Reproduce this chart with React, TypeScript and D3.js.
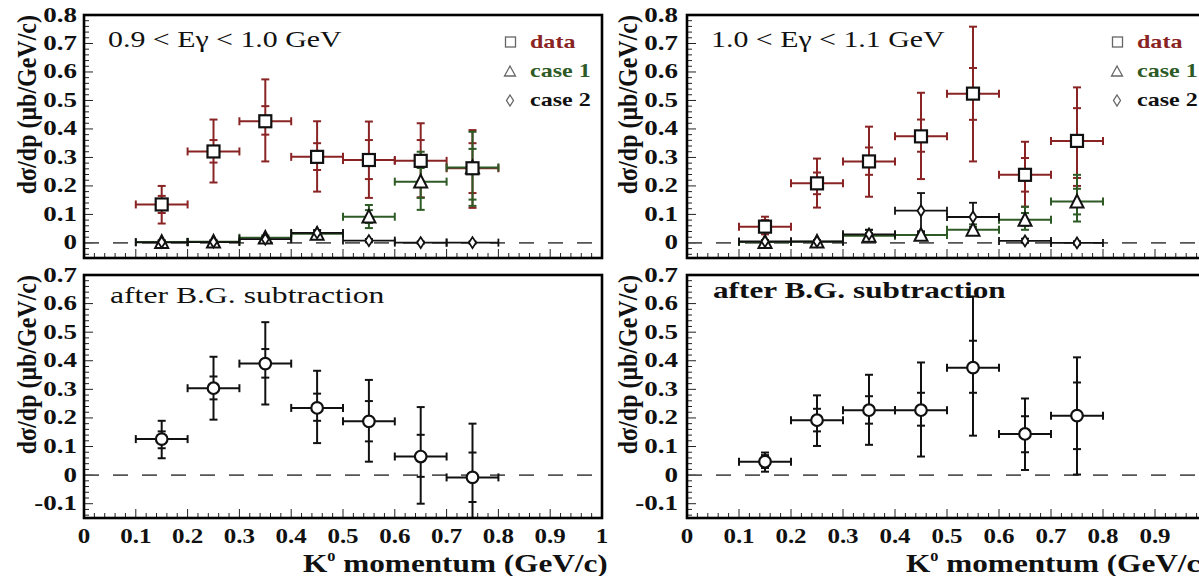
import React from "react";
import * as d3 from "d3";

// ---------- data ----------
const pCenters = [0.15, 0.25, 0.35, 0.45, 0.55, 0.65, 0.75];
const binHalf = 0.05;
const xTicks = [0, 0.1, 0.2, 0.3, 0.4, 0.5, 0.6, 0.7, 0.8, 0.9, 1];
const xTickLabels = ["0", "0.1", "0.2", "0.3", "0.4", "0.5", "0.6", "0.7", "0.8", "0.9", "1"];
const yTicksTop = [0, 0.1, 0.2, 0.3, 0.4, 0.5, 0.6, 0.7, 0.8];
const yTickLabelsTop = ["0", "0.1", "0.2", "0.3", "0.4", "0.5", "0.6", "0.7", "0.8"];
const yTicksBottom = [-0.1, 0, 0.1, 0.2, 0.3, 0.4, 0.5, 0.6, 0.7];
const yTickLabelsBottom = ["-0.1", "0", "0.1", "0.2", "0.3", "0.4", "0.5", "0.6", "0.7"];

const legendLabels = ["data", "case 1", "case 2"];

// Top-left: 0.9 < Eγ < 1.0 GeV
const tlData = [0.135, 0.321, 0.427, 0.302, 0.291, 0.288, 0.262];
const tlDataHi = [0.2, 0.433, 0.574, 0.427, 0.426, 0.42, 0.396];
const tlDataLo = [0.068, 0.212, 0.286, 0.18, 0.158, 0.16, 0.123];
const tlDataStatHi = [0.165, 0.361, 0.48, 0.35, 0.361, 0.361, 0.35];
const tlDataStatLo = [0.105, 0.282, 0.38, 0.256, 0.224, 0.215, 0.175];

const tlCase1 = [0.003, 0.004, 0.018, 0.032, 0.092, 0.215, 0.265];
const tlCase1Hi = [0.01, 0.01, 0.026, 0.045, 0.133, 0.32, 0.39];
const tlCase1Lo = [-0.003, -0.002, 0.01, 0.02, 0.052, 0.116, 0.13];
const tlCase1StatHi = [0.006, 0.007, 0.022, 0.04, 0.115, 0.263, 0.33];
const tlCase1StatLo = [0.0, 0.001, 0.014, 0.025, 0.07, 0.158, 0.152];

const tlCase2 = [0.002, 0.003, 0.013, 0.035, 0.008, 0.001, 0.001];
const tlCase2Hi = [0.007, 0.008, 0.02, 0.045, 0.014, 0.005, 0.005];
const tlCase2Lo = [-0.003, -0.002, 0.006, 0.025, 0.002, -0.003, -0.003];

// Top-right: 1.0 < Eγ < 1.1 GeV
const trData = [0.057, 0.209, 0.286, 0.374, 0.524, 0.239, 0.358];
const trDataHi = [0.092, 0.296, 0.408, 0.527, 0.759, 0.355, 0.546];
const trDataLo = [0.03, 0.124, 0.162, 0.224, 0.286, 0.127, 0.2];
const trDataStatHi = [0.08, 0.247, 0.335, 0.433, 0.614, 0.298, 0.473];
const trDataStatLo = [0.04, 0.171, 0.239, 0.32, 0.432, 0.18, 0.228];

const trCase1 = [0.003, 0.004, 0.025, 0.028, 0.046, 0.081, 0.145];
const trCase1Hi = [0.01, 0.01, 0.046, 0.04, 0.065, 0.127, 0.239];
const trCase1Lo = [-0.003, -0.002, 0.008, 0.018, 0.03, 0.046, 0.075];
const trCase1StatHi = [0.007, 0.007, 0.035, 0.035, 0.056, 0.105, 0.19];
const trCase1StatLo = [0.0, 0.001, 0.015, 0.022, 0.038, 0.06, 0.1];

const trCase2 = [0.005, 0.005, 0.03, 0.113, 0.091, 0.007, 0.0];
const trCase2Hi = [0.01, 0.01, 0.046, 0.175, 0.141, 0.015, 0.006];
const trCase2Lo = [0.0, 0.0, 0.015, 0.04, 0.04, 0.0, -0.006];

// Bottom-left: after B.G. subtraction
const blVal = [0.126, 0.304, 0.39, 0.235, 0.188, 0.065, -0.008];
const blHi = [0.19, 0.414, 0.535, 0.365, 0.333, 0.238, 0.18];
const blLo = [0.059, 0.194, 0.247, 0.112, 0.047, -0.1, -0.16];
const blStatHi = [0.153, 0.345, 0.441, 0.285, 0.259, 0.141, 0.079];
const blStatLo = [0.094, 0.265, 0.341, 0.19, 0.118, -0.006, -0.094];

// Bottom-right: after B.G. subtraction
const brVal = [0.047, 0.192, 0.227, 0.227, 0.376, 0.144, 0.208];
const brHi = [0.079, 0.279, 0.351, 0.394, 0.625, 0.268, 0.412];
const brLo = [0.012, 0.102, 0.106, 0.065, 0.138, 0.018, 0.002];
const brStatHi = [0.07, 0.232, 0.276, 0.288, 0.47, 0.206, 0.324];
const brStatLo = [0.025, 0.153, 0.18, 0.173, 0.288, 0.08, 0.091];

// ---------- style ----------
const FONT = "'Liberation Serif', 'DejaVu Serif', serif";
const RED = "#8a2424";
const GREEN = "#2e5a26";
const BLACK = "#111";
const SX = 1.3; // horizontal stretch of the original figure's text
const W = 1199;

function T({ x, y, sx = SX, anchor = "start", size, bold = false, fill = "#111", children }: any) {
  return (
    <text
      transform={`translate(${x},${y}) scale(${sx},1)`}
      textAnchor={anchor}
      fontFamily={FONT}
      fontWeight={bold ? "bold" : "normal"}
      fontSize={size}
      fill={fill}
    >
      {children}
    </text>
  );
}

function ErrBar({ xs, ys, x, y, hi, lo, shi, slo, color, w = 2 }: any) {
  const cx = xs(x);
  const x0 = xs(x - binHalf);
  const x1 = xs(x + binHalf);
  const cy = ys(y);
  const c = 4;
  const parts: any[] = [];
  parts.push(<line key="h" x1={x0} x2={x1} y1={cy} y2={cy} />);
  parts.push(<line key="hc0" x1={x0} x2={x0} y1={cy - c} y2={cy + c} />);
  parts.push(<line key="hc1" x1={x1} x2={x1} y1={cy - c} y2={cy + c} />);
  const yh = ys(hi);
  const yl = ys(lo);
  parts.push(<line key="v" x1={cx} x2={cx} y1={yh} y2={yl} />);
  parts.push(<line key="vc0" x1={cx - c} x2={cx + c} y1={yh} y2={yh} />);
  parts.push(<line key="vc1" x1={cx - c} x2={cx + c} y1={yl} y2={yl} />);
  if (shi !== undefined) {
    const a = ys(shi);
    const b = ys(slo);
    parts.push(<line key="s0" x1={cx - c} x2={cx + c} y1={a} y2={a} />);
    parts.push(<line key="s1" x1={cx - c} x2={cx + c} y1={b} y2={b} />);
  }
  return (
    <g stroke={color} strokeWidth={w} fill="none">
      {parts}
    </g>
  );
}

function Square({ x, y, s = 12, stroke = BLACK, sw = 2.2 }: any) {
  return <rect x={x - s / 2} y={y - s / 2} width={s} height={s} fill="#fff" stroke={stroke} strokeWidth={sw} />;
}
function Triangle({ x, y, s = 13, stroke = BLACK, sw = 2 }: any) {
  const h = s * 0.9;
  const p = `${x},${y - h / 2 - 1} ${x - s / 2},${y + h / 2} ${x + s / 2},${y + h / 2}`;
  return <polygon points={p} fill="#fff" stroke={stroke} strokeWidth={sw} />;
}
function Diamond({ x, y, w = 7, h = 11, stroke = BLACK, sw = 1.8 }: any) {
  const p = `${x},${y - h / 2} ${x + w / 2},${y} ${x},${y + h / 2} ${x - w / 2},${y}`;
  return <polygon points={p} fill="#fff" stroke={stroke} strokeWidth={sw} />;
}

function Frame({ xs, ys, yTicks, yLabels, showXLabels, yTitleX, labelRight }: any) {
  const [x0, x1] = xs.range();
  const [yb, yt] = ys.range();
  const minorX = d3.range(0, 1.0001, 0.02);
  const [d0, d1] = ys.domain();
  const minorY = d3.range(Math.ceil(d0 / 0.02 - 1e-6) * 0.02, d1 + 0.0001, 0.02);
  const isMajor = (v: number) => Math.abs(v * 10 - Math.round(v * 10)) < 1e-6;
  return (
    <g>
      <g stroke="#222" strokeWidth={1}>
        {minorX.map((v, i) => (
          <line key={"mx" + i} x1={xs(v)} x2={xs(v)} y1={yb} y2={yb - (isMajor(v) ? 9 : 5)} />
        ))}
        {minorY.map((v, i) => (
          <line key={"my" + i} x1={x0} x2={x0 + (isMajor(v) ? 9 : 5)} y1={ys(v)} y2={ys(v)} />
        ))}
      </g>
      <line x1={x0} x2={x1} y1={ys(0)} y2={ys(0)} stroke="#555" strokeWidth={1.6} strokeDasharray="15,14" />
      {yTicks.map((v: number, i: number) => (
        <T key={"yl" + i} x={labelRight} y={ys(v) + 6.5} anchor="end" size={20} bold sx={1.35}>
          {yLabels[i]}
        </T>
      ))}
      {showXLabels &&
        xTicks
          .map((v, i) => ({ v, label: xTickLabels[i] }))
          .filter((t) => xs(t.v) + 6 < W)
          .map((t, i) => (
            <T key={"xl" + i} x={xs(t.v)} y={yb + 25} anchor="middle" size={20} bold sx={1.25}>
              {t.label}
            </T>
          ))}
      <text
        transform={`translate(${yTitleX},${yt}) rotate(-90) scale(1,1.12)`}
        textAnchor="end"
        dy={7}
        fontFamily={FONT}
        fontWeight="bold"
        fontSize={24}
        fill="#111"
      >
        dσ/dp (μb/GeV/c)
      </text>
    </g>
  );
}

function TopPanel({ id, xs, ys, title, data, dHi, dLo, dsHi, dsLo, c1, c1Hi, c1Lo, c1sHi, c1sLo, c2, c2Hi, c2Lo, yTitleX, labelRight, legX }: any) {
  const [x0, x1] = xs.range();
  const [yb, yt] = ys.range();
  return (
    <g>
      <defs>
        <clipPath id={id}>
          <rect x={x0} y={yt} width={x1 - x0} height={yb - yt} />
        </clipPath>
      </defs>
      <Frame xs={xs} ys={ys} yTicks={yTicksTop} yLabels={yTickLabelsTop} showXLabels={false} yTitleX={yTitleX} labelRight={labelRight} />
      <g clipPath={`url(#${id})`}>
        {pCenters.map((x, i) => (
          <ErrBar key={"d" + i} xs={xs} ys={ys} x={x} y={data[i]} hi={dHi[i]} lo={dLo[i]} shi={dsHi[i]} slo={dsLo[i]} color={RED} />
        ))}
        {pCenters.map((x, i) => (
          <ErrBar key={"c1" + i} xs={xs} ys={ys} x={x} y={c1[i]} hi={c1Hi[i]} lo={c1Lo[i]} shi={c1sHi[i]} slo={c1sLo[i]} color={GREEN} />
        ))}
        {pCenters.map((x, i) => (
          <ErrBar key={"c2" + i} xs={xs} ys={ys} x={x} y={c2[i]} hi={c2Hi[i]} lo={c2Lo[i]} color={BLACK} w={1.8} />
        ))}
        {pCenters.map((x, i) => (
          <Triangle key={"t" + i} x={xs(x)} y={ys(c1[i])} />
        ))}
        {pCenters.map((x, i) => (
          <Diamond key={"dm" + i} x={xs(x)} y={ys(c2[i])} />
        ))}
        {pCenters.map((x, i) => (
          <Square key={"s" + i} x={xs(x)} y={ys(data[i])} />
        ))}
      </g>
      <T x={x0 + 24} y={yt + 32} size={23}>
        {title}
      </T>
      <rect x={legX - 4.5} y={yt + 22} width={10} height={10} fill="#fff" stroke="#666" strokeWidth={1.3} />
      <T x={legX + 20} y={yt + 33} size={18.5} bold fill={RED}>
        {legendLabels[0]}
      </T>
      <polygon
        points={`${legX},${yt + 51} ${legX - 5.5},${yt + 61} ${legX + 5.5},${yt + 61}`}
        fill="#fff"
        stroke="#666"
        strokeWidth={1.3}
      />
      <T x={legX + 20} y={yt + 62} size={18.5} bold fill={GREEN}>
        {legendLabels[1]}
      </T>
      <polygon
        points={`${legX},${yt + 80} ${legX + 3.5},${yt + 85.5} ${legX},${yt + 91} ${legX - 3.5},${yt + 85.5}`}
        fill="#fff"
        stroke="#666"
        strokeWidth={1.3}
      />
      <T x={legX + 20} y={yt + 91} size={18.5} bold fill="#111">
        {legendLabels[2]}
      </T>
      <rect x={x0} y={yt} width={x1 - x0} height={yb - yt} fill="none" stroke="#000" strokeWidth={2.6} />
    </g>
  );
}

function BottomPanel({ id, xs, ys, val, hi, lo, sHi, sLo, bold, yTitleX, labelRight, xTitleLeft }: any) {
  const [x0, x1] = xs.range();
  const [yb, yt] = ys.range();
  return (
    <g>
      <defs>
        <clipPath id={id}>
          <rect x={x0} y={yt} width={x1 - x0} height={yb - yt} />
        </clipPath>
      </defs>
      <Frame xs={xs} ys={ys} yTicks={yTicksBottom} yLabels={yTickLabelsBottom} showXLabels={true} yTitleX={yTitleX} labelRight={labelRight} />
      <g clipPath={`url(#${id})`}>
        {pCenters.map((x, i) => (
          <ErrBar key={"e" + i} xs={xs} ys={ys} x={x} y={val[i]} hi={hi[i]} lo={lo[i]} shi={sHi[i]} slo={sLo[i]} color={BLACK} />
        ))}
        {pCenters.map((x, i) => (
          <circle key={"c" + i} cx={xs(x)} cy={ys(val[i])} r={5.8} fill="#fff" stroke={BLACK} strokeWidth={2.2} />
        ))}
      </g>
      {bold ? (
        <T x={x0 + 26} y={yt + 23} size={23.5} bold sx={1.33}>
          after B.G. subtraction
        </T>
      ) : (
        <T x={x0 + 26} y={yt + 28} size={24} sx={1.32}>
          after B.G. subtraction
        </T>
      )}
      <text
        transform={`translate(${xTitleLeft},${yb + 54}) scale(1.25,1)`}
        fontFamily={FONT}
        fontWeight="bold"
        fontSize={25}
        fill="#111"
      >
        K<tspan fontSize={13} dy={-11}>0</tspan>
        <tspan dy={11}> momentum (GeV/c)</tspan>
      </text>
      <rect x={x0} y={yt} width={x1 - x0} height={yb - yt} fill="none" stroke="#000" strokeWidth={2.6} />
    </g>
  );
}

export default function App() {
  const xsL = d3.scaleLinear().domain([0, 1]).range([84, 602]);
  const xsR = d3.scaleLinear().domain([0, 1]).range([687, 1207]);
  const ysT = d3.scaleLinear().domain([-0.053, 0.8]).range([258, 15]);
  const ysB = d3.scaleLinear().domain([-0.15, 0.7]).range([518, 275]);
  return (
    <svg width={W} height={576} style={{ position: "absolute", left: 0, top: 0, background: "#fff" }}>
      <rect x={0} y={0} width={W} height={576} fill="#fff" />
      <TopPanel
        id="cTL"
        xs={xsL}
        ys={ysT}
        title="0.9 < Eγ < 1.0 GeV"
        data={tlData}
        dHi={tlDataHi}
        dLo={tlDataLo}
        dsHi={tlDataStatHi}
        dsLo={tlDataStatLo}
        c1={tlCase1}
        c1Hi={tlCase1Hi}
        c1Lo={tlCase1Lo}
        c1sHi={tlCase1StatHi}
        c1sLo={tlCase1StatLo}
        c2={tlCase2}
        c2Hi={tlCase2Hi}
        c2Lo={tlCase2Lo}
        yTitleX={28}
        labelRight={77}
        legX={510}
      />
      <TopPanel
        id="cTR"
        xs={xsR}
        ys={ysT}
        title="1.0 < Eγ < 1.1 GeV"
        data={trData}
        dHi={trDataHi}
        dLo={trDataLo}
        dsHi={trDataStatHi}
        dsLo={trDataStatLo}
        c1={trCase1}
        c1Hi={trCase1Hi}
        c1Lo={trCase1Lo}
        c1sHi={trCase1StatHi}
        c1sLo={trCase1StatLo}
        c2={trCase2}
        c2Hi={trCase2Hi}
        c2Lo={trCase2Lo}
        yTitleX={629}
        labelRight={678}
        legX={1117}
      />
      <BottomPanel id="cBL" xs={xsL} ys={ysB} val={blVal} hi={blHi} lo={blLo} sHi={blStatHi} sLo={blStatLo} bold={false} yTitleX={28} labelRight={77} xTitleLeft={303} />
      <BottomPanel id="cBR" xs={xsR} ys={ysB} val={brVal} hi={brHi} lo={brLo} sHi={brStatHi} sLo={brStatLo} bold={true} yTitleX={629} labelRight={678} xTitleLeft={906} />
    </svg>
  );
}
